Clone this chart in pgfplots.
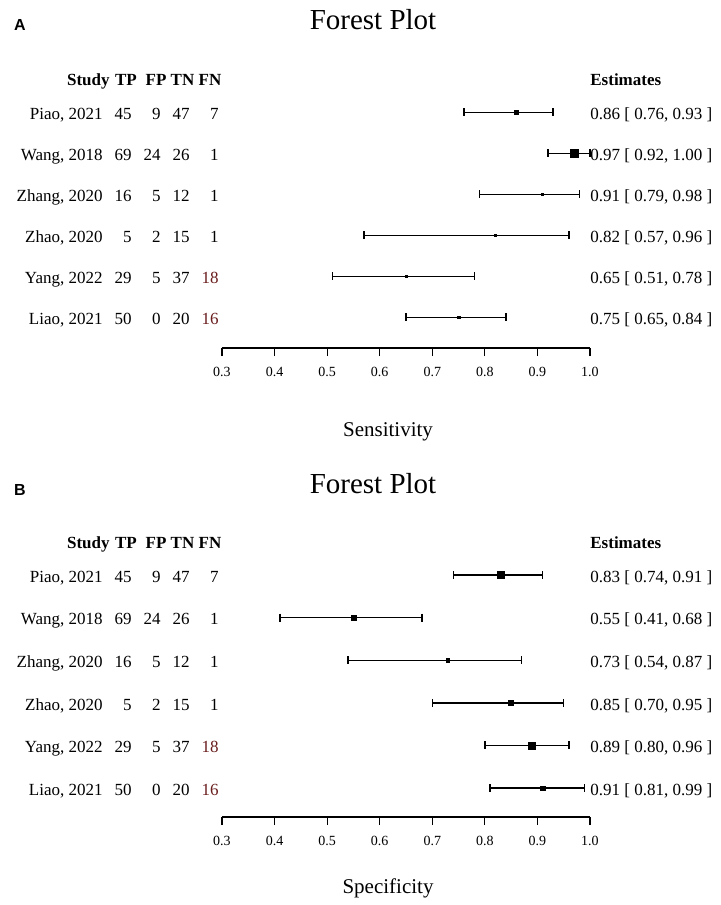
\documentclass[border=0pt]{standalone}
\usepackage{fontspec}
\setmainfont{Liberation Serif}
\newfontfamily\labfont{Liberation Sans}
\usepackage{pgfplots}
\usepackage{pgfplotstable}
\pgfplotsset{compat=1.18}
\definecolor{fnred}{RGB}{105,28,28}

\pgfplotstableread{
row est lo hi ms
6 0.86 0.76 0.93 0.8
5 0.97 0.92 1.00 2.2
4 0.91 0.79 0.98 0.5
3 0.82 0.57 0.96 0.4
2 0.65 0.51 0.78 0.5
1 0.75 0.65 0.84 0.7
}\dataA

\pgfplotstableread{
row est lo hi ms
6 0.83 0.74 0.91 1.8
5 0.55 0.41 0.68 1.3
4 0.73 0.54 0.87 0.8
3 0.85 0.70 0.95 1.2
2 0.89 0.80 0.96 1.8
1 0.91 0.81 0.99 1.1
}\dataB

\newcommand{\tfont}{\fontsize{8.5pt}{10pt}\selectfont}
\tikzset{t/.style={inner sep=0pt, font=\tfont}}

\newcommand{\trow}[7]{%
  \node[t, anchor=base east, yshift=-3.6pt] at ([xshift=-59.5pt]axis cs:0.3,#1) {#2};
  \node[t, anchor=base east, yshift=-3.6pt] at ([xshift=-45pt]axis cs:0.3,#1) {#3};
  \node[t, anchor=base east, yshift=-3.6pt] at ([xshift=-30.5pt]axis cs:0.3,#1) {#4};
  \node[t, anchor=base east, yshift=-3.6pt] at ([xshift=-16pt]axis cs:0.3,#1) {#5};
  \node[t, anchor=base east, yshift=-3.6pt] at ([xshift=-1.5pt]axis cs:0.3,#1) {#6};
  \node[t, anchor=base west, yshift=-3.6pt] at (axis cs:1.0,#1) {#7};
}
\newcommand{\thead}[1]{%
  \node[t, anchor=base east, yshift=-3.6pt, font=\tfont\bfseries] at ([xshift=-56pt]axis cs:0.3,#1) {Study};
  \node[t, anchor=base, yshift=-3.6pt, font=\tfont\bfseries] at ([xshift=-48pt]axis cs:0.3,#1) {TP};
  \node[t, anchor=base, yshift=-3.6pt, font=\tfont\bfseries] at ([xshift=-33pt]axis cs:0.3,#1) {FP};
  \node[t, anchor=base, yshift=-3.6pt, font=\tfont\bfseries] at ([xshift=-19.75pt]axis cs:0.3,#1) {TN};
  \node[t, anchor=base, yshift=-3.6pt, font=\tfont\bfseries] at ([xshift=-6pt]axis cs:0.3,#1) {FN};
  \node[t, anchor=base west, yshift=-3.6pt, font=\tfont\bfseries] at (axis cs:1.0,#1) {Estimates};
}

\pgfplotsset{
  forest/.style={
    scale only axis,
    width=184pt,
    xmin=0.3, xmax=1.0,
    ymax=6.5,
    clip=false,
    axis x line*=bottom,
    axis y line=none,
    ytick=\empty,
    xtick={0.3,0.4,0.5,0.6,0.7,0.8,0.9,1.0},
    xticklabels={0.3,0.4,0.5,0.6,0.7,0.8,0.9,1.0},
    xticklabel style={font=\fontsize{7pt}{8pt}\selectfont, anchor=north, yshift=-2.2pt},
    tick align=outside,
    major tick length=4pt,
    tick style={black, line width=0.6pt},
    axis line style={black, line width=0.75pt},
  },
  capplot/.style={
    black, only marks, mark=|, mark size=2pt,
    mark options={black, line width=0.75pt},
  },
  lineplot/.style={
    capplot,
    error bars/.cd, x dir=plus, x explicit, error mark=none,
      error bar style={black, line width=0.75pt},
  },
  boxplot/.style={
    only marks, mark=square*, black, line width=0.3pt,
    scatter, scatter/use mapped color={draw=black, fill=black},
    visualization depends on={\thisrow{ms} \as \msz},
    scatter/@pre marker code/.append style={/tikz/mark size=\msz pt},
  },
}

\begin{document}
\begin{tikzpicture}
\useasboundingbox (0,0) rectangle (360.5pt,-452.5pt);

% ---------- Panel A ----------
\node[font=\labfont\bfseries\fontsize{8pt}{9pt}\selectfont] at (10pt,-12.5pt) {A};
\node[font=\fontsize{14.5pt}{16pt}\selectfont] at (186.5pt,-10pt) {Forest Plot};
\node[font=\fontsize{10.5pt}{12pt}\selectfont] at (194pt,-216pt) {Sensitivity};

\begin{axis}[forest, at={(111pt,-174pt)}, anchor=south west,
  ymin=0.25, height=128.125pt]
\addplot[lineplot] table[x=lo, y=row,
  x error expr=\thisrow{hi}-\thisrow{lo}] {\dataA};
\addplot[capplot] table[x=hi, y=row] {\dataA};
\addplot[boxplot] table[x=est, y=row] {\dataA};
\thead{6.82}
\trow{6}{Piao, 2021}{45}{9}{47}{7}{0.86 [ 0.76, 0.93 ]}
\trow{5}{Wang, 2018}{69}{24}{26}{1}{0.97 [ 0.92, 1.00 ]}
\trow{4}{Zhang, 2020}{16}{5}{12}{1}{0.91 [ 0.79, 0.98 ]}
\trow{3}{Zhao, 2020}{5}{2}{15}{1}{0.82 [ 0.57, 0.96 ]}
\trow{2}{Yang, 2022}{29}{5}{37}{\textcolor{fnred}{18}}{0.65 [ 0.51, 0.78 ]}
\trow{1}{Liao, 2021}{50}{0}{20}{\textcolor{fnred}{16}}{0.75 [ 0.65, 0.84 ]}
\end{axis}

% ---------- Panel B ----------
\node[font=\labfont\bfseries\fontsize{8pt}{9pt}\selectfont] at (10pt,-245pt) {B};
\node[font=\fontsize{14.5pt}{16pt}\selectfont] at (186.5pt,-242pt) {Forest Plot};
\node[font=\fontsize{10.5pt}{12pt}\selectfont] at (194pt,-444pt) {Specificity};

\begin{axis}[forest, at={(111pt,-408.5pt)}, anchor=south west,
  ymin=0.32, height=131.6pt]
\addplot[lineplot] table[x=lo, y=row,
  x error expr=\thisrow{hi}-\thisrow{lo}] {\dataB};
\addplot[capplot] table[x=hi, y=row] {\dataB};
\addplot[boxplot] table[x=est, y=row] {\dataB};
\thead{6.8}
\trow{6}{Piao, 2021}{45}{9}{47}{7}{0.83 [ 0.74, 0.91 ]}
\trow{5}{Wang, 2018}{69}{24}{26}{1}{0.55 [ 0.41, 0.68 ]}
\trow{4}{Zhang, 2020}{16}{5}{12}{1}{0.73 [ 0.54, 0.87 ]}
\trow{3}{Zhao, 2020}{5}{2}{15}{1}{0.85 [ 0.70, 0.95 ]}
\trow{2}{Yang, 2022}{29}{5}{37}{\textcolor{fnred}{18}}{0.89 [ 0.80, 0.96 ]}
\trow{1}{Liao, 2021}{50}{0}{20}{\textcolor{fnred}{16}}{0.91 [ 0.81, 0.99 ]}
\end{axis}
\end{tikzpicture}
\end{document}
